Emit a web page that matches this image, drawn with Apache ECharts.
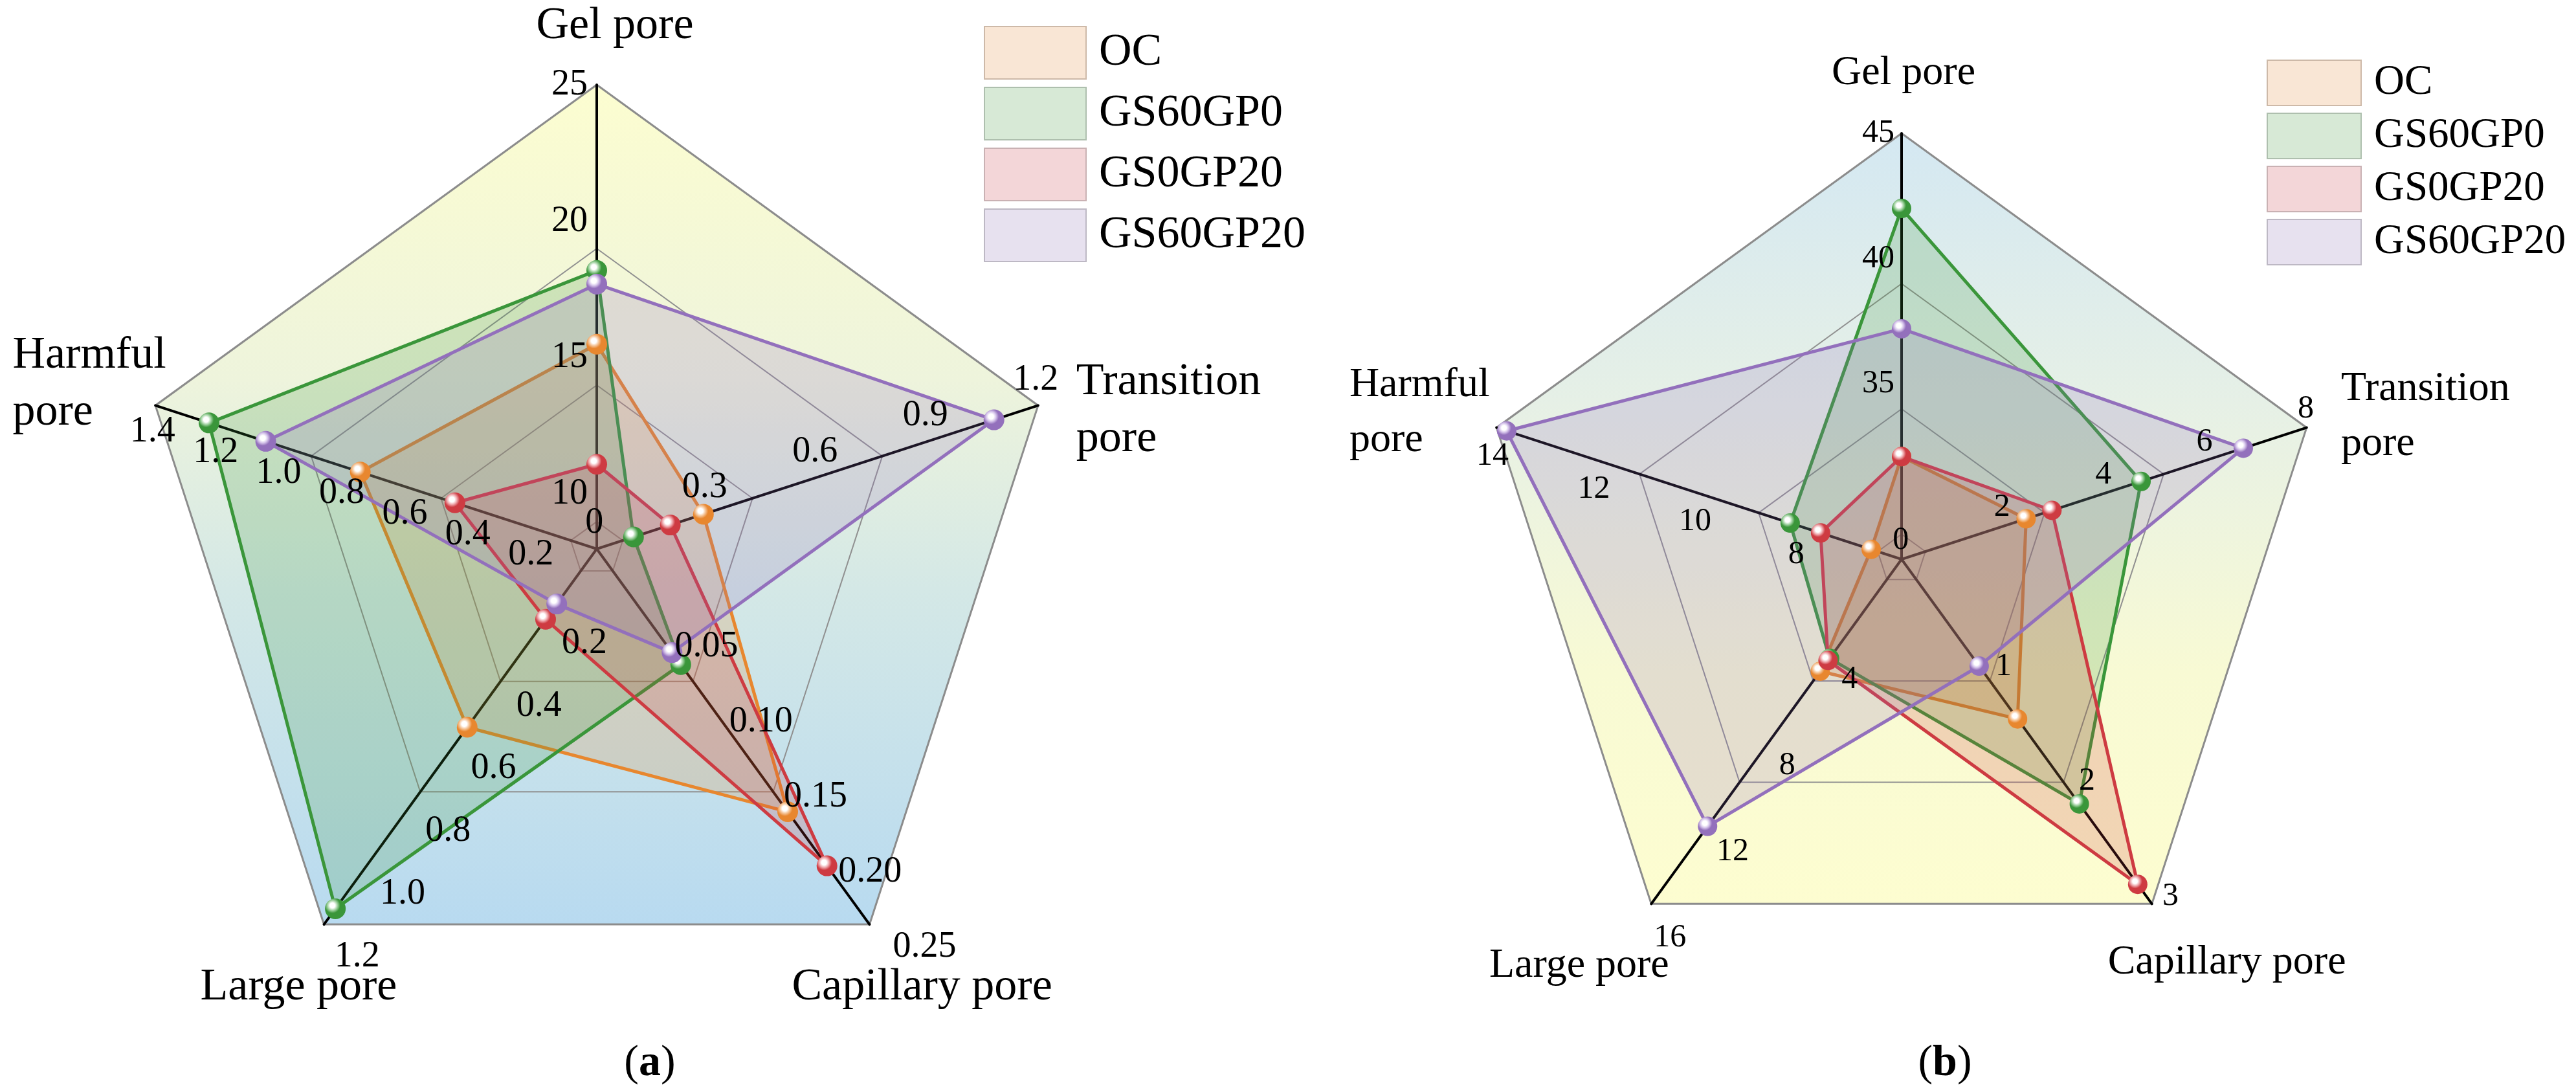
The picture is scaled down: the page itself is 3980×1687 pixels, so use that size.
<!DOCTYPE html>
<html><head><meta charset="utf-8">
<script src="https://cdn.jsdelivr.net/npm/echarts@6/dist/echarts.min.js"></script>
<style>html,body{margin:0;padding:0;background:#fff}#c{width:3980px;height:1687px}</style>
</head><body><div id="c"></div>
<script>
// ---------- DATA ----------
// indicator order (counter-clockwise from top): Gel, Harmful, Large, Capillary, Transition
const axisNames = ['Gel pore', 'Harmful\npore', 'Large pore', 'Capillary pore', 'Transition\npore'];
const seriesNames = ['OC', 'GS60GP0', 'GS0GP20', 'GS60GP20'];

// chart (a)
const minA = [8, 0, 0, 0, 0];
const maxA = [25, 1.4, 1.2, 0.25, 1.2];
const a_OC       = [15.5, 0.75, 0.57, 0.175, 0.29];
const a_GS60GP0  = [18.2, 1.23, 1.15, 0.077, 0.10];
const a_GS0GP20  = [11.1, 0.45, 0.225, 0.211, 0.20];
const a_GS60GP20 = [17.7, 1.05, 0.176, 0.069, 1.08];

// chart (b)
const minB = [28, 6, 0, 0, 0];
const maxB = [45, 14, 16, 3, 8];
const b_OC       = [32.1, 6.6, 5.2, 1.39, 2.46];
const b_GS60GP0  = [42.0, 8.2, 4.6, 2.13, 4.73];
const b_GS0GP20  = [32.1, 7.6, 4.7, 2.83, 2.97];
const b_GS60GP20 = [37.2, 13.8, 12.4, 0.93, 6.75];

// tick labels
const gelTicksA = [10, 15, 20, 25];
const harmfulTicksA = [0.2, 0.4, 0.6, 0.8, 1.0, 1.2, 1.4];
const largeTicksA = [0.2, 0.4, 0.6, 0.8, 1.0, 1.2];
const capillaryTicksA = [0.05, 0.10, 0.15, 0.20, 0.25];
const transitionTicksA = [0, 0.3, 0.6, 0.9, 1.2];
const gelTicksB = [35, 40, 45];
const harmfulTicksB = [8, 10, 12, 14];
const largeTicksB = [4, 8, 12, 16];
const capillaryTicksB = [1, 2, 3];
const transitionTicksB = [0, 2, 4, 6, 8];
// grid rings follow the gel-pore axis
const gridTicksA = [10, 15, 20, 25];
const gridTicksB = [30, 35, 40, 45];

// ---------- STYLE ----------
const FONT = 'Liberation Serif';
const lineColors = ['#E8872F', '#3A963A', '#CE3B42', '#9370BC'];
const tintColors = ['#F6C9A0', '#A9D6A9', '#F0B0B4', '#D8C8EC'];
const legendFill = ['#F9E6D5', '#D7E9D6', '#F3D6D8', '#E7E1EF'];
const legendBorder = ['#CDB9A8', '#AEBFAE', '#C9B1B3', '#BDB8C4'];

const CA = [922, 848], RA = 717;
const CB = [2938, 864], RB = 658;

function fmt(ticks, digits) {
  return function (v) {
    v = Number(v);
    for (const t of ticks) {
      if (Math.abs(t - v) < 1e-7) return '{t|' + (t === 0 ? '0' : t.toFixed(digits)) + '}';
    }
    return '';
  };
}
function richName(n) {
  return n.split('\n').map(s => '{n|' + s + '}').join('\n');
}
function linGrad(stops) {
  return {type: 'linear', x: 0, y: 0, x2: 0, y2: 1, global: false,
    colorStops: stops.map(s => ({offset: s[0], color: s[1]}))};
}
function bgRadar(center, radius, grad) {
  return {
    center: center, radius: radius, shape: 'polygon', splitNumber: 1, z: 0, silent: true,
    axisName: {show: false}, axisLine: {show: false}, axisTick: {show: false}, axisLabel: {show: false},
    splitLine: {show: true, lineStyle: {color: '#8c8c8c', width: 3}},
    splitArea: {show: true, areaStyle: {color: [grad]}},
    indicator: axisNames.map(n => ({name: n, min: 0, max: 1}))
  };
}
function gridRadar(center, radius, mins, maxs, gridTicks, nameSize, lineH, nameSpecs) {
  const step = 1;
  const split = Math.round((maxs[0] - mins[0]) / step);
  const colors = [];
  for (let k = 0; k < split; k++) {
    const v = mins[0] + (k + 1) * step;
    colors.push(gridTicks.indexOf(v) >= 0 && k < split - 1 ? '#909090' : 'rgba(0,0,0,0)');
  }
  return {
    center: center, radius: radius, shape: 'polygon', splitNumber: split, z: 1,
    axisName: {show: true, color: '#000', fontFamily: FONT, fontSize: nameSize, lineHeight: lineH,
      formatter: richName,
      rich: {n: {fontFamily: FONT, fontSize: nameSize, lineHeight: lineH, color: '#000', align: 'left'}}},
    axisLine: {show: true, lineStyle: {color: '#000', width: 4}},
    axisTick: {show: false}, axisLabel: {show: false},
    splitLine: {show: true, lineStyle: {color: colors, width: 2}},
    splitArea: {show: false},
    indicator: axisNames.map((n, j) => ({
      name: n, min: mins[j], max: maxs[j], nameGap: nameSpecs[j].gap,
      nameTextStyle: {align: nameSpecs[j].align, verticalAlign: 'middle', padding: nameSpecs[j].pad}
    }))
  };
}
function labelRadar(center, radius, mins, maxs, split, specs, fontSize) {
  const rich = {t: {fontFamily: FONT, fontSize: fontSize, color: '#000'}};
  return {
    center: center, radius: radius, shape: 'polygon', splitNumber: split, z: 10, silent: true,
    axisName: {show: false}, axisLine: {show: false}, axisTick: {show: false},
    splitLine: {show: false}, splitArea: {show: false},
    axisLabel: {show: false, fontFamily: FONT, fontSize: fontSize, color: '#000'},
    indicator: axisNames.map((n, j) => {
      const s = specs[j];
      return {name: n, min: mins[j], max: maxs[j],
        axisLabel: s ? Object.assign({show: true, color: '#000', fontFamily: FONT, fontSize: fontSize, rich: rich,
          formatter: fmt(s.ticks, s.digits)}, s.style) : {show: false}};
    })
  };
}

const gradA = linGrad([[0, '#FCFDD0'], [0.35, '#EEF4DC'], [0.6, '#D4E8E6'], [1, '#B8DAF0']]);
const gradB = linGrad([[0, '#D4E8F2'], [0.35, '#E6F0E6'], [0.7, '#F8FAD4'], [1, '#FDFDD0']]);

const nameA = [
  {gap: 90, align: 'center', pad: [0, 0, 0, 56]},
  {gap: 232, align: 'left', pad: [78, 0, 0, 0]},
  {gap: 121, align: 'center', pad: [0, 0, 0, 64]},
  {gap: 121, align: 'center', pad: [0, 0, 0, 20]},
  {gap: 62, align: 'left', pad: [54, 0, 0, 0]}
];
const nameB = [
  {gap: 93, align: 'center', pad: [0, 0, 0, 6]},
  {gap: 239, align: 'left', pad: [102, 0, 0, 0]},
  {gap: 118, align: 'center', pad: [0, 84, 0, 0]},
  {gap: 112, align: 'center', pad: [0, 0, 0, 100]},
  {gap: 56, align: 'left', pad: [0, 0, 0, 0]}
];

const radars = [
  bgRadar(CA, RA, gradA),                                                   // 0
  gridRadar(CA, RA, minA, maxA, gridTicksA, 70, 88, nameA),                 // 1
  labelRadar(CA, RA, minA, maxA, 17, {0: {ticks: gelTicksA, digits: 0, style: {align: 'right', verticalAlign: 'middle', margin: 14}}}, 56),
  labelRadar(CA, RA, minA, maxA, 7, {1: {ticks: harmfulTicksA, digits: 1, style: {align: 'center', verticalAlign: 'top', margin: 14}}}, 56),
  labelRadar(CA, RA, minA, maxA, 6, {2: {ticks: largeTicksA, digits: 1, style: {align: 'left', verticalAlign: 'top', margin: 20, padding: [10, 0, 0, 0]}}}, 56),
  labelRadar(CA, RA, minA, maxA, 5, {3: {ticks: capillaryTicksA, digits: 2, style: {align: 'left', verticalAlign: 'top', margin: 20, padding: [19, 0, 0, 20]}}}, 56),
  labelRadar(CA, RA, minA, maxA, 4, {4: {ticks: transitionTicksA, digits: 1, style: {align: 'center', verticalAlign: 'bottom', margin: 12}}}, 56),
  bgRadar(CB, RB, gradB),                                                   // 7
  gridRadar(CB, RB, minB, maxB, gridTicksB, 64, 85, nameB),                 // 8
  labelRadar(CB, RB, minB, maxB, 17, {0: {ticks: gelTicksB, digits: 0, style: {align: 'right', verticalAlign: 'middle', margin: 11}}}, 50),
  labelRadar(CB, RB, minB, maxB, 4, {
    1: {ticks: harmfulTicksB, digits: 0, style: {align: 'center', verticalAlign: 'top', margin: 20}},
    2: {ticks: largeTicksB, digits: 0, style: {align: 'left', verticalAlign: 'top', margin: 5, padding: [25, 0, 0, 0]}},
    4: {ticks: transitionTicksB, digits: 0, style: {align: 'center', verticalAlign: 'bottom', margin: 4}}
  }, 50),
  labelRadar(CB, RB, minB, maxB, 3, {3: {ticks: capillaryTicksB, digits: 0, style: {align: 'left', verticalAlign: 'middle', margin: 20}}}, 50)
];

function sphere(c, tint) {
  return {type: 'radial', x: 0.36, y: 0.34, r: 0.68,
    colorStops: [{offset: 0, color: '#FFFFFF'}, {offset: 0.18, color: '#FFFFFF'},
      {offset: 0.34, color: tint}, {offset: 0.55, color: c}, {offset: 1, color: c}]};
}
const dataA = [a_OC, a_GS60GP0, a_GS0GP20, a_GS60GP20];
const dataB = [b_OC, b_GS60GP0, b_GS0GP20, b_GS60GP20];
const series = [];
[[1, dataA, 32], [8, dataB, 30]].forEach(([ri, ds, sz]) => {
  ds.forEach((vals, i) => {
    series.push({
      type: 'radar', radarIndex: ri, name: seriesNames[i], symbol: 'circle', symbolSize: sz,
      emphasis: {disabled: true}, silent: true,
      lineStyle: {color: lineColors[i], width: 5},
      areaStyle: {color: lineColors[i], opacity: 0.2},
      itemStyle: {color: sphere(lineColors[i], tintColors[i])},
      data: [{value: vals, name: seriesNames[i]}]
    });
  });
});

function legend(left, top, w, h, gap, fs) {
  return {
    orient: 'vertical', left: left, top: top, padding: 0, itemWidth: w, itemHeight: h, itemGap: gap,
    icon: 'rect', selectedMode: false,
    textStyle: {fontFamily: FONT, fontSize: fs, color: '#000', lineHeight: fs, padding: [0, 0, 0, 15]},
    data: seriesNames.map((n, i) => ({name: n, itemStyle: {color: legendFill[i], borderColor: legendBorder[i], borderWidth: 2}}))
  };
}

const chart = echarts.init(document.getElementById('c'), null, {renderer: 'canvas'});
chart.setOption({
  animation: false,
  backgroundColor: '#fff',
  textStyle: {fontFamily: FONT, color: '#000'},
  title: [
    {text: '({b|a})', left: 1004, top: 1643, textAlign: 'center', textVerticalAlign: 'middle', padding: 0,
      textStyle: {fontFamily: FONT, fontSize: 68, fontWeight: 'normal', color: '#000',
        rich: {b: {fontFamily: FONT, fontSize: 68, fontWeight: 'bold', color: '#000'}}}},
    {text: '({b|b})', left: 3005, top: 1643, textAlign: 'center', textVerticalAlign: 'middle', padding: 0,
      textStyle: {fontFamily: FONT, fontSize: 68, fontWeight: 'normal', color: '#000',
        rich: {b: {fontFamily: FONT, fontSize: 68, fontWeight: 'bold', color: '#000'}}}}
  ],
  legend: [legend(1520, 40, 157, 81, 11, 70), legend(3502, 92, 145, 70, 10, 65)],
  radar: radars,
  series: series
});
</script></body></html>
